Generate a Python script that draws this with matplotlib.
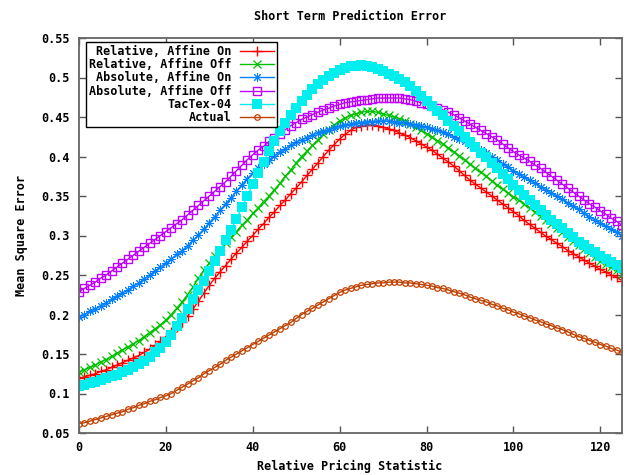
import numpy as np
import matplotlib
matplotlib.use('Agg')
import matplotlib.pyplot as plt

# x positions (relative pricing statistic), one point every 1.25
x = np.arange(101) * 1.25

rel_affine_on = [0.119, 0.121, 0.123, 0.125, 0.128, 0.130, 0.133, 0.136, 0.139, 0.142,
                 0.145, 0.148, 0.152, 0.156, 0.161, 0.166, 0.172, 0.178, 0.184, 0.191,
                 0.198, 0.207, 0.217, 0.227, 0.237, 0.246, 0.254, 0.262, 0.270, 0.278,
                 0.285, 0.293, 0.300, 0.308, 0.315, 0.323, 0.330, 0.338, 0.345, 0.353,
                 0.360, 0.368, 0.376, 0.384, 0.392, 0.400, 0.408, 0.415, 0.422, 0.428,
                 0.433, 0.437, 0.439, 0.440, 0.440, 0.439, 0.437, 0.435, 0.433, 0.430,
                 0.427, 0.424, 0.420, 0.416, 0.412, 0.408, 0.403, 0.398, 0.393, 0.388,
                 0.382, 0.376, 0.370, 0.365, 0.360, 0.355, 0.350, 0.345, 0.340, 0.335,
                 0.330, 0.325, 0.319, 0.314, 0.309, 0.304, 0.299, 0.295, 0.290, 0.286,
                 0.281, 0.277, 0.273, 0.269, 0.265, 0.261, 0.257, 0.254, 0.250, 0.247,
                 0.243]
rel_affine_off = [0.127, 0.130, 0.133, 0.136, 0.140, 0.143, 0.147, 0.151, 0.155, 0.159,
                  0.163, 0.167, 0.172, 0.177, 0.182, 0.187, 0.193, 0.200, 0.208, 0.216,
                  0.225, 0.235, 0.246, 0.256, 0.265, 0.274, 0.282, 0.290, 0.298, 0.305,
                  0.313, 0.320, 0.328, 0.335, 0.343, 0.350, 0.358, 0.366, 0.375, 0.383,
                  0.392, 0.400, 0.407, 0.414, 0.421, 0.428, 0.434, 0.440, 0.445, 0.449,
                  0.452, 0.454, 0.456, 0.457, 0.457, 0.456, 0.454, 0.452, 0.450, 0.448,
                  0.445, 0.441, 0.437, 0.433, 0.429, 0.425, 0.420, 0.416, 0.411, 0.406,
                  0.401, 0.396, 0.390, 0.385, 0.380, 0.375, 0.369, 0.364, 0.359, 0.354,
                  0.349, 0.345, 0.340, 0.335, 0.330, 0.325, 0.320, 0.315, 0.309, 0.304,
                  0.298, 0.293, 0.288, 0.283, 0.278, 0.273, 0.268, 0.264, 0.260, 0.256,
                  0.251]
abs_affine_on = [0.197, 0.200, 0.204, 0.207, 0.211, 0.215, 0.219, 0.223, 0.227, 0.231,
                 0.236, 0.240, 0.245, 0.250, 0.255, 0.260, 0.265, 0.270, 0.276, 0.281,
                 0.287, 0.294, 0.301, 0.308, 0.316, 0.324, 0.332, 0.340, 0.348, 0.356,
                 0.364, 0.372, 0.379, 0.385, 0.391, 0.396, 0.401, 0.406, 0.410, 0.414,
                 0.418, 0.421, 0.424, 0.427, 0.430, 0.432, 0.434, 0.436, 0.438, 0.440,
                 0.441, 0.442, 0.443, 0.444, 0.444, 0.445, 0.445, 0.445, 0.444, 0.443,
                 0.442, 0.441, 0.440, 0.439, 0.437, 0.435, 0.433, 0.431, 0.428, 0.425,
                 0.422, 0.419, 0.415, 0.412, 0.408, 0.404, 0.400, 0.396, 0.391, 0.387,
                 0.382, 0.378, 0.374, 0.370, 0.366, 0.362, 0.358, 0.354, 0.350, 0.346,
                 0.341, 0.337, 0.333, 0.329, 0.324, 0.320, 0.316, 0.312, 0.308, 0.304,
                 0.300]
abs_affine_off = [0.229, 0.233, 0.237, 0.241, 0.246, 0.250, 0.255, 0.260, 0.265, 0.270,
                  0.275, 0.280, 0.285, 0.290, 0.295, 0.300, 0.305, 0.310, 0.315, 0.320,
                  0.326, 0.332, 0.338, 0.344, 0.350, 0.356, 0.362, 0.368, 0.375, 0.382,
                  0.389, 0.396, 0.402, 0.408, 0.413, 0.419, 0.424, 0.429, 0.434, 0.439,
                  0.443, 0.447, 0.450, 0.453, 0.456, 0.459, 0.461, 0.464, 0.466, 0.468,
                  0.469, 0.470, 0.471, 0.472, 0.473, 0.474, 0.474, 0.474, 0.474, 0.474,
                  0.473, 0.472, 0.470, 0.468, 0.466, 0.464, 0.461, 0.459, 0.456, 0.453,
                  0.449, 0.445, 0.441, 0.437, 0.433, 0.429, 0.425, 0.421, 0.416, 0.411,
                  0.406, 0.402, 0.398, 0.394, 0.389, 0.385, 0.380, 0.375, 0.370, 0.365,
                  0.360, 0.355, 0.350, 0.345, 0.340, 0.336, 0.331, 0.327, 0.322, 0.318,
                  0.313]
tactex = [0.109, 0.111, 0.113, 0.115, 0.117, 0.119, 0.122, 0.124, 0.127, 0.130,
          0.133, 0.137, 0.141, 0.146, 0.152, 0.158, 0.165, 0.174, 0.185, 0.196,
          0.207, 0.219, 0.231, 0.243, 0.255, 0.268, 0.281, 0.294, 0.307, 0.321,
          0.336, 0.350, 0.365, 0.379, 0.393, 0.407, 0.420, 0.432, 0.443, 0.453,
          0.462, 0.470, 0.478, 0.485, 0.492, 0.497, 0.502, 0.506, 0.509, 0.512,
          0.514, 0.515, 0.516, 0.515, 0.513, 0.511, 0.508, 0.505, 0.502, 0.498,
          0.494, 0.489, 0.483, 0.477, 0.470, 0.464, 0.458, 0.452, 0.445, 0.439,
          0.432, 0.425, 0.418, 0.412, 0.405, 0.399, 0.392, 0.385, 0.378, 0.371,
          0.364, 0.358, 0.351, 0.345, 0.338, 0.332, 0.326, 0.320, 0.314, 0.309,
          0.303, 0.298, 0.292, 0.288, 0.283, 0.279, 0.274, 0.270, 0.266, 0.263,
          0.259]
actual = [0.062, 0.063, 0.065, 0.067, 0.069, 0.071, 0.073, 0.075, 0.077, 0.080,
          0.082, 0.085, 0.087, 0.090, 0.092, 0.095, 0.097, 0.100, 0.104, 0.108,
          0.112, 0.116, 0.120, 0.125, 0.129, 0.133, 0.137, 0.142, 0.146, 0.150,
          0.154, 0.158, 0.162, 0.166, 0.170, 0.174, 0.178, 0.182, 0.186, 0.190,
          0.195, 0.200, 0.204, 0.208, 0.212, 0.216, 0.220, 0.224, 0.228, 0.231,
          0.233, 0.235, 0.237, 0.238, 0.239, 0.240, 0.240, 0.241, 0.241, 0.241,
          0.240, 0.240, 0.239, 0.238, 0.237, 0.236, 0.234, 0.233, 0.231, 0.229,
          0.227, 0.225, 0.222, 0.220, 0.218, 0.216, 0.213, 0.211, 0.208, 0.206,
          0.203, 0.201, 0.198, 0.196, 0.193, 0.191, 0.188, 0.186, 0.183, 0.181,
          0.178, 0.175, 0.172, 0.170, 0.167, 0.165, 0.162, 0.160, 0.157, 0.155,
          0.152]

labels = ['Relative, Affine On', 'Relative, Affine Off', 'Absolute, Affine On',
          'Absolute, Affine Off', 'TacTex-04', 'Actual']

plt.rcParams['font.family'] = 'DejaVu Sans Mono'
plt.rcParams['font.weight'] = 'bold'
plt.rcParams['font.size'] = 8.5

fig = plt.figure(figsize=(6.31, 4.75), dpi=100)
ax = fig.add_axes([79 / 631, 1 - 433 / 475, 543 / 631, 395 / 475])

ax.plot(x, rel_affine_on, color='#ff0000', lw=1, marker='+', ms=6.5, mew=1, label=labels[0])
ax.plot(x, rel_affine_off, color='#00c000', lw=1, marker='x', ms=5.5, mew=0.9, label=labels[1])
ax.plot(x, abs_affine_on, color='#0080ff', lw=1, marker=(8, 2, 0), ms=6.5, mew=0.7,
        label=labels[2])
ax.plot(x, abs_affine_off, color='#c000ff', lw=1, marker='s', ms=5.8, mew=1,
        mfc='none', label=labels[3])
ax.plot(x, tactex, color='#00eeee', lw=1, marker='s', ms=6.6, mew=0, label=labels[4])
ax.plot(x, actual, color='#c04000', lw=1, marker='o', ms=4, mew=0.9, mfc='none',
        label=labels[5])

ax.set_xlim(0, 125)
ax.set_ylim(0.05, 0.55)
ax.set_xticks(np.arange(0, 121, 20))
ax.set_yticks(np.arange(0.05, 0.551, 0.05))
ax.set_yticklabels(['0.05', '0.1', '0.15', '0.2', '0.25', '0.3', '0.35',
                    '0.4', '0.45', '0.5', '0.55'])
ax.tick_params(direction='in', length=5, width=1, color='#555555',
               top=True, right=True, pad=6)
ax.tick_params(axis='y', pad=7)
for s in ax.spines.values():
    s.set_color('#666666')
    s.set_linewidth(1.3)

leg = ax.legend(loc='upper left', bbox_to_anchor=(7 / 543, 1 - 4 / 395),
                borderaxespad=0, markerfirst=False, fancybox=False,
                framealpha=1, edgecolor='black', handlelength=2.9,
                handletextpad=0.7, labelspacing=0.02, borderpad=0.25,
                fontsize=8.5)
leg.get_frame().set_linewidth(1)

fig.text(350 / 631, 1 - 17 / 475, 'Short Term Prediction Error', ha='center', va='center')
fig.text(350 / 631, 1 - 466 / 475, 'Relative Pricing Statistic', ha='center', va='center')
fig.text(22 / 631, 1 - 235 / 475, 'Mean Square Error', ha='center', va='center',
         rotation=90)

fig.savefig('out.png', dpi=100)
